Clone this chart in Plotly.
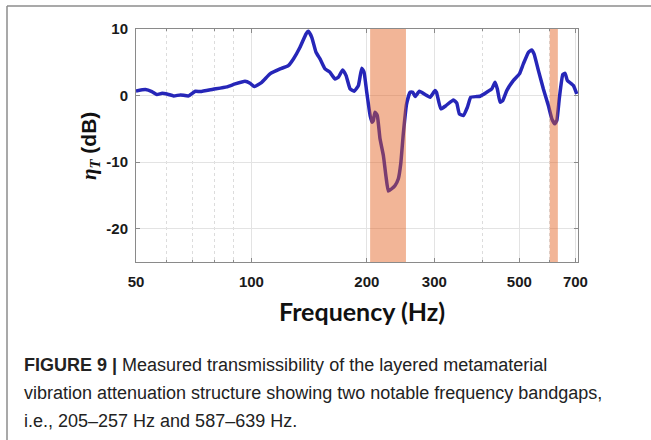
import math
import plotly.graph_objects as go

# ---- data ----
freq_hz = [50, 52.9, 55, 56.7, 58.5, 60.5, 62.7, 65.3, 68.6, 71.4, 73.6, 79.5, 86.2, 90.7,
           96.2, 99.2, 101.8, 106.4, 111.8, 118.8, 124.8, 128.7, 133.9, 138.8, 140.8, 143.7,
           147.4, 151, 155.6, 160.3, 165.2, 168.6, 173, 176.6, 180.9, 185.3, 190.1, 194,
           196.7, 199.9, 204, 206.5, 208, 210, 213, 216.5, 220.9, 224.5, 227.6, 232.2, 237,
           241.7, 245.2, 249, 254, 259.4, 263.6, 267.3, 274.3, 283.8, 292.4, 301.3, 303.9,
           311.9, 321.9, 336.3, 343.3, 348.6, 357.1, 365.9, 373.5, 387, 395, 411, 423.6,
           432, 438, 445.3, 452.5, 463.5, 482, 500, 512, 528, 538.6, 546, 560.6, 577.5, 595,
           607.6, 618, 626, 636, 649, 658, 667, 681, 691.6, 705.6]
eta_db = [0.7, 0.9, 0.6, 0.15, 0.35, 0.2, -0.05, 0.1, -0.05, 0.65, 0.6, 0.95, 1.3, 1.75,
          2.15, 1.85, 1.35, 2.0, 3.25, 4.0, 4.5, 5.5, 7.25, 9.25, 9.65, 8.75,
          6.5, 5.5, 4.0, 3.5, 2.5, 2.75, 3.85, 3.0, 1.0, 0.65, 1.5, 4.1,
          3.5, 0.5, -3.0, -4.0, -3.75, -2.5, -3.0, -6.5, -9.0, -12.25, -14.35, -14.0, -13.5,
          -12.5, -10.25, -5.75, -1.25, 0.5, 0.5, -0.15, 0.65, 0.15, -0.25, 0.75, 0.5,
          -2.0, -1.5, -0.65, -1.15, -2.75, -3.0, -1.75, -0.25, -0.15, -0.1, 0.5, 1.0,
          2.0, 1.0, -1.0, -0.75, 0.75, 2.25, 3.25, 4.75, 6.5, 6.85, 6.25, 3.75, 1.0, -1.5,
          -3.5, -4.25, -3.75, -0.25, 3.15, 3.35, 2.25, 1.85, 1.5, 0.25]

band_start_hz = [204, 600]
band_end_hz = [253, 630]

x_range_hz = [50, 711]
y_range_db = [-25, 10]

x_tick_vals = [50, 100, 200, 300, 500, 700]
x_tick_text = ["50", "100", "200", "300", "500", "700"]
x_minor_vals = [60, 70, 80, 90, 400, 600]
y_tick_vals = [-20, -10, 0, 10]
y_tick_text = ["-20", "-10", "0", "10"]

caption_lines = [
    "<b>FIGURE 9 |</b> Measured transmissibility of the layered metamaterial",
    "vibration attenuation structure showing two notable frequency bandgaps,",
    "i.e., 205–257 Hz and 587–639 Hz.",
]

# ---- layout geometry (pixels) ----
W, H = 651, 440
L, R, T, B = 136, 578, 29, 262


def px_x(px):
    return (px - L) / (R - L)


def px_y(py):
    return (B - py) / (B - T)


fig = go.Figure()
fig.add_trace(go.Scatter(
    x=freq_hz, y=eta_db, mode="lines",
    line=dict(color="#2626B8", width=3.5, shape="spline", smoothing=0.4),
    hoverinfo="skip", showlegend=False,
))

# bandgap bands, drawn over the curve
for s, e in zip(band_start_hz, band_end_hz):
    fig.add_trace(go.Scatter(
        x=[s, e, e, s, s],
        y=[y_range_db[0], y_range_db[0], y_range_db[1], y_range_db[1], y_range_db[0]],
        mode="lines", fill="toself", fillcolor="rgba(226,92,24,0.45)",
        line=dict(width=0), hoverinfo="skip", showlegend=False,
    ))

tick_font = dict(family="Liberation Sans, Arial", size=15, color="#1a1a1a", weight="bold")
axis_common = dict(
    showline=True, linecolor="#8a8a8a", linewidth=1, mirror="ticks",
    ticks="inside", ticklen=4, tickcolor="#8a8a8a", tickwidth=1,
    showgrid=True, gridcolor="#e3e3e3", gridwidth=1,
    zeroline=False, tickfont=tick_font,
)

fig.update_xaxes(
    type="log", range=[math.log10(x_range_hz[0]), math.log10(x_range_hz[1])],
    tickmode="array", tickvals=x_tick_vals, ticktext=x_tick_text,
    ticklabelstandoff=6,
    minor=dict(tickmode="array", tickvals=x_minor_vals, showgrid=True,
               gridcolor="#dcdcdc", griddash="dot", gridwidth=1,
               ticks="inside", ticklen=2, tickcolor="#8a8a8a"),
    **axis_common,
)
fig.update_yaxes(
    range=y_range_db, tickmode="array", tickvals=y_tick_vals, ticktext=y_tick_text,
    ticklabelstandoff=4,
    **axis_common,
)

annotations = [
    dict(text="<b>Frequency (Hz)</b>", x=px_x(362), y=px_y(311), xref="paper", yref="paper",
         showarrow=False, xanchor="center", yanchor="middle",
         font=dict(family="Lato", size=25, color="#111111")),
    dict(text="<b><span style='font-family:Liberation Serif'><i>η</i><sub><i>T</i></sub></span> (dB)</b>",
         x=px_x(90), y=px_y(146), xref="paper", yref="paper", textangle=-90,
         showarrow=False, xanchor="center", yanchor="middle",
         font=dict(family="Liberation Sans, Arial", size=21, color="#111111")),
]
for line, ypix in zip(caption_lines, [365, 393, 421]):
    annotations.append(dict(
        text=line, x=px_x(22), y=px_y(ypix), xref="paper", yref="paper",
        showarrow=False, xanchor="left", yanchor="middle", align="left",
        font=dict(family="Liberation Sans, Arial", size=18, color="#222222")))
fig.update_layout(annotations=annotations)

# outer card border (top and left edges)
fig.add_shape(type="line", xref="paper", yref="paper",
              x0=px_x(7), x1=px_x(660), y0=px_y(6), y1=px_y(6),
              line=dict(color="#8c8c8c", width=1.5), layer="above")
fig.add_shape(type="line", xref="paper", yref="paper",
              x0=px_x(7), x1=px_x(7), y0=px_y(6), y1=px_y(450),
              line=dict(color="#8c8c8c", width=1.5), layer="above")

fig.update_layout(
    width=W, height=H,
    margin=dict(l=L, r=W - R, t=T, b=H - B, pad=0),
    paper_bgcolor="white", plot_bgcolor="white",
    showlegend=False,
)

fig.write_html("out.html")
